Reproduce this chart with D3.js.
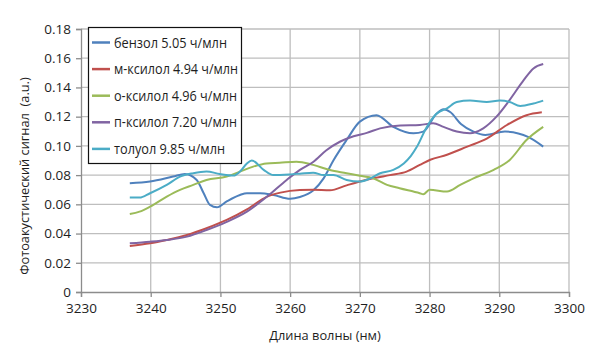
<!DOCTYPE html>
<html>
<head>
<meta charset="utf-8">
<script src="https://cdn.jsdelivr.net/npm/d3@7"></script>
<style>
  body { margin: 0; background: #fff; }
  text { font-family: "Open Sans", "DejaVu Sans", sans-serif; fill: #1e1e1e; }
</style>
</head>
<body>
<svg id="chart" width="600" height="351"></svg>
<script>
// data: [wavelength nm, signal a.u.]
var benzol = [[3237,0.0744],[3239.9,0.0756],[3243.2,0.079],[3244.9,0.0808],[3246.6,0.0767],[3247.6,0.0676],[3248.5,0.0596],[3249.5,0.058],[3250.9,0.062],[3252.8,0.0664],[3253.8,0.0676],[3255.7,0.0676],[3257.6,0.0664],[3260,0.0638],[3261.4,0.065],[3263.3,0.0694],[3264.8,0.0778],[3266.2,0.09],[3268.1,0.104],[3270,0.1166],[3272.4,0.121],[3274.8,0.113],[3277.7,0.1086],[3279.1,0.1098],[3281,0.122],[3282,0.125],[3283,0.123],[3284.5,0.115],[3286.3,0.1098],[3288,0.1075],[3290.8,0.1098],[3294.2,0.106],[3296.3,0.0995]];
var mXylene = [[3237,0.0315],[3239.9,0.0333],[3242.3,0.0356],[3245.2,0.039],[3248,0.0436],[3250.9,0.0493],[3253.8,0.0566],[3256.7,0.0653],[3258.6,0.068],[3261.4,0.0698],[3263.3,0.070],[3265.7,0.0696],[3268.1,0.073],[3270,0.0756],[3271.9,0.0778],[3274.3,0.080],[3276.7,0.0824],[3278.6,0.087],[3280.1,0.0905],[3282.5,0.0939],[3285.4,0.0995],[3288.2,0.105],[3291.1,0.1143],[3293.9,0.121],[3296.1,0.123]];
var oXylene = [[3237,0.0534],[3238.4,0.055],[3239.9,0.0584],[3242.3,0.0653],[3244.2,0.0699],[3246.1,0.0733],[3248,0.0767],[3250.9,0.079],[3252.8,0.0824],[3254.7,0.0858],[3256.6,0.088],[3258.5,0.0885],[3260.9,0.0892],[3263.3,0.087],[3265.7,0.0835],[3268.1,0.0813],[3270,0.0795],[3271.9,0.0778],[3273.9,0.0733],[3275.7,0.071],[3278.6,0.0676],[3279.1,0.0669],[3280,0.070],[3282.5,0.0687],[3284.4,0.0733],[3286.3,0.0778],[3289.2,0.0836],[3291.5,0.0904],[3293.9,0.104],[3296.3,0.113]];
var pXylene = [[3237,0.0333],[3239.9,0.0344],[3242.3,0.0356],[3245.2,0.0379],[3248,0.0424],[3250.9,0.048],[3253.8,0.055],[3256.7,0.0653],[3259.5,0.0767],[3261.4,0.0836],[3263.3,0.089],[3265.2,0.097],[3267.2,0.103],[3269.1,0.1066],[3271,0.1089],[3272.9,0.112],[3275.8,0.114],[3278.6,0.1143],[3280.5,0.1155],[3282,0.113],[3283.9,0.1098],[3285.8,0.1086],[3287.7,0.112],[3289.6,0.12],[3291.5,0.1315],[3293.5,0.145],[3294.9,0.153],[3296.3,0.156]];
var toluol = [[3237,0.0646],[3238.4,0.0646],[3239.9,0.0676],[3242.3,0.0733],[3244.2,0.079],[3246.1,0.0813],[3248,0.0824],[3249.9,0.0808],[3251.9,0.0797],[3252.8,0.0824],[3253.8,0.088],[3254.5,0.09],[3256.2,0.0836],[3257.6,0.080],[3260,0.0805],[3261.4,0.081],[3263.3,0.0817],[3264.8,0.080],[3266.2,0.080],[3268.1,0.0767],[3270,0.0756],[3271.5,0.0778],[3272.9,0.0813],[3274.8,0.0836],[3276.3,0.088],[3277.3,0.093],[3278.2,0.0995],[3279.6,0.113],[3281,0.122],[3282.5,0.1257],[3283.9,0.130],[3285.8,0.131],[3288.2,0.130],[3290.1,0.131],[3291.5,0.130],[3293,0.1273],[3294.9,0.129],[3296.3,0.131]];

var seriesNames = ["бензол 5.05 ч/млн", "м-ксилол 4.94 ч/млн", "о-ксилол 4.96 ч/млн", "п-ксилол 7.20 ч/млн", "толуол 9.85 ч/млн"];
var seriesData = [benzol, mXylene, oXylene, pXylene, toluol];
var colors = ["#4F81BD", "#C0504D", "#9BBB59", "#8064A2", "#4BACC6"];
var xTicks = [3230, 3240, 3250, 3260, 3270, 3280, 3290, 3300];
var yTicks = [0, 0.02, 0.04, 0.06, 0.08, 0.10, 0.12, 0.14, 0.16, 0.18];

var svg = d3.select("#chart");
var plotL = 81, plotR = 569, plotT = 29, plotB = 292;

var x = d3.scaleLinear().domain([3230, 3300]).range([plotL, plotR]);
var y = d3.scaleLinear().domain([0, 0.18]).range([plotB, plotT]);

// grid
svg.append("g").selectAll("line")
    .data(yTicks.slice(1))
    .enter().append("line")
    .attr("x1", plotL).attr("x2", plotR)
    .attr("y1", d => y(d)).attr("y2", d => y(d))
    .attr("stroke", "#BEBEBE").attr("stroke-width", 1.3);
svg.append("g").selectAll("line")
    .data(xTicks.slice(1))
    .enter().append("line")
    .attr("x1", d => x(d)).attr("x2", d => x(d))
    .attr("y1", plotT).attr("y2", plotB)
    .attr("stroke", "#BEBEBE").attr("stroke-width", 1.3);

// axes
var axisX = d3.axisBottom(x).tickValues(xTicks).tickSize(5).tickPadding(6).tickFormat(d3.format("d"));
var gx = svg.append("g").attr("transform", "translate(0," + plotB + ")").call(axisX);
var axisY = d3.axisLeft(y).tickValues(yTicks).tickSize(5).tickPadding(5)
    .tickFormat(d => d === 0 ? "0" : d3.format(".2f")(d));
var gy = svg.append("g").attr("transform", "translate(" + plotL + ",0)").call(axisY);
[gx, gy].forEach(function(g) {
    g.select(".domain").attr("stroke", "#8C8C8C").attr("stroke-width", 1.3);
    g.selectAll(".tick line").attr("stroke", "#8C8C8C").attr("stroke-width", 1.3);
    g.selectAll(".tick text").attr("font-size", "13.5px").attr("fill", "#1e1e1e")
        .attr("font-family", "'Open Sans', sans-serif");
});

// lines
var line = d3.line().x(d => x(d[0])).y(d => y(d[1])).curve(d3.curveMonotoneX);
svg.append("g").selectAll("path")
    .data(seriesData)
    .enter().append("path")
    .attr("d", line)
    .attr("fill", "none")
    .attr("stroke", (d, i) => colors[i])
    .attr("stroke-width", 2)
    .attr("stroke-linejoin", "round");

// legend
var legend = svg.append("g");
legend.append("rect")
    .attr("x", 88.5).attr("y", 27.5).attr("width", 153).attr("height", 136)
    .attr("fill", "#fff").attr("stroke", "#111").attr("stroke-width", 1.2);
var rows = legend.selectAll("g.row")
    .data(seriesNames)
    .enter().append("g")
    .attr("transform", (d, i) => "translate(92," + (42.5 + i * 26.6) + ")");
rows.append("line")
    .attr("x1", 0).attr("x2", 18).attr("y1", 0).attr("y2", 0)
    .attr("stroke", (d, i) => colors[i]).attr("stroke-width", 2.5);
rows.append("text")
    .attr("x", 22).attr("y", 5)
    .attr("font-size", "13.8px")
    .attr("textLength", 113)
    .attr("lengthAdjust", "spacingAndGlyphs")
    .text(d => d);
// the widest entries are a little longer in the reference
rows.select("text").attr("textLength", (d, i) => [113, 124, 123, 123, 111][i]);

// axis titles
svg.append("text")
    .attr("x", 325).attr("y", 340)
    .attr("text-anchor", "middle")
    .attr("font-size", "12.8px")
    .text("Длина волны (нм)");
svg.append("text")
    .attr("transform", "translate(29,176) rotate(-90)")
    .attr("text-anchor", "middle")
    .attr("font-size", "12.8px")
    .attr("xml:space", "preserve")
    .text("Фотоакустический сигнал  (a.u.)");
</script>
</body>
</html>
